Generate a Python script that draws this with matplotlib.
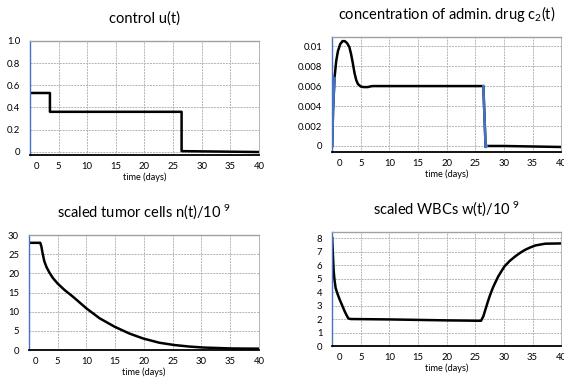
import matplotlib
matplotlib.use('Agg')
import matplotlib.pyplot as plt
import matplotlib.transforms as mtransforms

plt.rcParams['font.family'] = ['Lato', 'DejaVu Sans']
plt.rcParams['mathtext.default'] = 'regular'

# control u(t)
u_t = [0, 3.5, 3.5, 26.5, 26.5, 40]
u_v = [0.53, 0.53, 0.36, 0.36, 0.005, -0.003]

# concentration c2(t)
c_t = [0, 0.15, 0.4, 0.7, 1.0, 1.4, 1.8, 2.2, 2.6, 3.0, 3.3, 3.6, 3.9, 4.2, 4.5, 5.0, 5.5, 6.2, 7.0,
       26.4, 26.6, 26.8, 27.0, 30, 40]
c_v = [0, 0.0036, 0.0068, 0.0085, 0.0095, 0.0102, 0.0105, 0.0105, 0.0103, 0.0099, 0.0092, 0.0083,
       0.0073, 0.0066, 0.0062, 0.00595, 0.0059, 0.0059, 0.006,
       0.006, 0.0030, -0.0001, 0.0, 0.0, -0.0001]

# tumor cells n(t)/1e9
n_t = [0, 2.0, 2.2, 2.4, 2.7, 3.1, 3.6, 4.2, 5.0, 6.2, 7.7, 10, 12.3, 14.9, 17.5, 19.9, 22.7, 25.3,
       27.9, 30.3, 35.2, 40]
n_v = [28.0, 28.0, 27.0, 25.3, 23.2, 21.6, 20.2, 18.8, 17.4, 15.7, 13.9, 10.9, 8.3, 6.1, 4.3, 3.0,
       1.9, 1.3, 0.9, 0.65, 0.4, 0.35]

# WBCs w(t)/1e9
w_t = [0, 0.1, 0.25, 0.4, 0.6, 0.9, 1.3, 1.7, 2.2, 2.8, 3.2, 10, 20, 26.0, 26.4, 26.8, 27.2, 27.6,
       28.1, 28.6, 29.0, 29.5, 30.1, 31.0, 32.0, 33.0, 33.8, 34.7, 35.5, 37.2, 40]
w_v = [8.0, 7.0, 5.6, 4.9, 4.3, 3.9, 3.45, 3.05, 2.55, 2.05, 2.0, 1.97, 1.9, 1.87, 2.2, 2.75, 3.3,
       3.8, 4.35, 4.8, 5.15, 5.5, 5.9, 6.3, 6.65, 6.95, 7.15, 7.32, 7.45, 7.58, 7.6]

xticks = [0, 5, 10, 15, 20, 25, 30, 35, 40]

fig = plt.figure(figsize=(5.64, 3.79), dpi=100)


def style(ax, title, yticks, ylabels, ylim):
    ax.set_xlim(0, 40)
    ax.set_ylim(*ylim)
    ax.set_xticks(xticks)
    ax.set_xticklabels([str(x) for x in xticks], fontsize=6.8)
    ax.set_yticks(yticks)
    ax.set_yticklabels(ylabels, fontsize=6.8)
    ax.tick_params(axis='x', length=0, pad=5)
    ax.tick_params(axis='y', length=0, pad=7)
    ax.grid(True, color='#b4b4b4', linestyle=(0, (2, 1)), linewidth=0.7)
    ax.spines['left'].set_color('#4472c4')
    ax.spines['left'].set_linewidth(1.0)
    ax.spines['bottom'].set_color('black')
    ax.spines['bottom'].set_linewidth(1.3)
    ax.spines['top'].set_color('#a0a0a0')
    ax.spines['top'].set_linewidth(1.0)
    ax.spines['right'].set_color('#b4b4b4')
    ax.spines['right'].set_linestyle((0, (2, 1)))
    ax.spines['right'].set_linewidth(0.7)
    ax.set_xlabel('time (days)', fontsize=6.6, labelpad=1)
    ax.set_title(title, fontsize=10.5, pad=13)
    # shift the "0" label a bit right like the original
    lab = ax.get_xticklabels()[0]
    lab.set_transform(lab.get_transform() + mtransforms.ScaledTranslation(7 / 100, 0, fig.dpi_scale_trans))


ax1 = fig.add_axes([0.053, 0.591, 0.406, 0.301])
ax1.plot(u_t, u_v, color='black', lw=1.8)
style(ax1, 'control u(t)', [0, 0.2, 0.4, 0.6, 0.8, 1.0], ['0', '0.2', '0.4', '0.6', '0.8', '1.0'], (-0.03, 1.0))

ax2 = fig.add_axes([0.589, 0.599, 0.406, 0.303])
ax2.plot(c_t, c_v, color='black', lw=1.8)
ax2.plot(c_t[:3], c_v[:3], color='#4472c4', lw=1.8)
ax2.plot(c_t[19:23], c_v[19:23], color='#4472c4', lw=1.8)
style(ax2, 'concentration of admin. drug c$_2$(t)', [0, 0.002, 0.004, 0.006, 0.008, 0.01],
      ['0', '0.002', '0.004', '0.006', '0.008', '0.01'], (-0.0006, 0.0109))

ax3 = fig.add_axes([0.051, 0.0765, 0.408, 0.303])
ax3.plot(n_t, n_v, color='black', lw=1.8)
style(ax3, 'scaled tumor cells n(t)/10$^{\\ 9}$', [0, 5, 10, 15, 20, 25, 30],
      ['0', '5', '10', '15', '20', '25', '30'], (0, 30))

ax4 = fig.add_axes([0.589, 0.087, 0.406, 0.301])
ax4.plot(w_t, w_v, color='black', lw=1.8)
style(ax4, 'scaled WBCs w(t)/10$^{\\ 9}$', [0, 1, 2, 3, 4, 5, 6, 7, 8],
      ['0', '1', '2', '3', '4', '5', '6', '7', '8'], (0, 8.45))

fig.savefig('out.png', dpi=100)
